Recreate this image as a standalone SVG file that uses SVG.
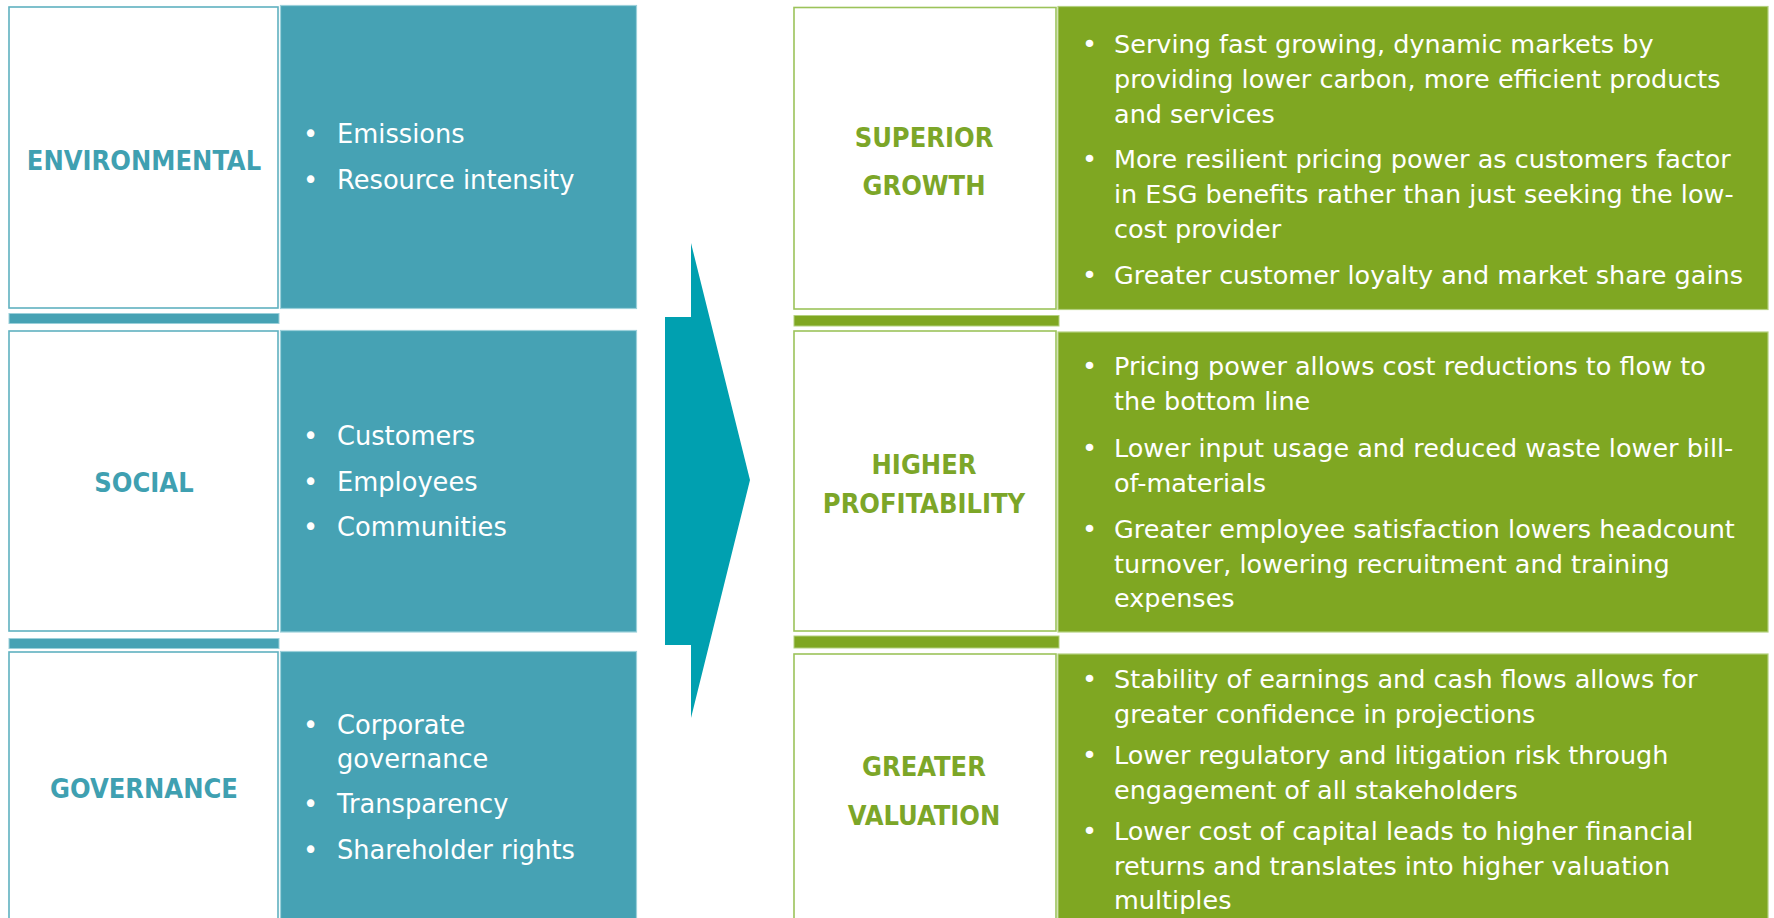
<svg xmlns="http://www.w3.org/2000/svg" width="1774" height="918" viewBox="0 0 1774 918">
  <style>
    .lbl-box { fill: #ffffff; stroke: #5FB1C0; stroke-width: 1.6; }
    .teal-box { fill: #46A2B4; stroke: #9BD0DA; stroke-width: 1.2; }
    .teal-bar { fill: #46A2B4; stroke: #9BD0DA; stroke-width: 1; }
    .g-lbl-box { fill: #ffffff; stroke: #9CC35A; stroke-width: 1.6; }
    .green-box { fill: #7FA722; stroke: #B3D07E; stroke-width: 1.2; }
    .green-bar { fill: #7FA722; stroke: #B3D07E; stroke-width: 1; }
    .t-title, .g-title { font-family: "DejaVu Sans Condensed", "DejaVu Sans", sans-serif; font-stretch: condensed; font-size: 27px; font-weight: bold; text-anchor: middle; }
    .t-title { fill: #3FA0B1; }
    .g-title { fill: #7CA628; }
    .item, .gitem { font-family: "DejaVu Sans", "Liberation Sans", sans-serif; fill: #ffffff; }
    .item { font-size: 25.7px; }
    .gitem { font-size: 25.5px; }
    .arrow { fill: #00A0B0; }
  </style>

  <!-- Left column: ESG pillars -->
  <g id="environmental">
    <rect class="lbl-box" x="9" y="7" width="269" height="301"/>
    <rect class="teal-box" x="280.5" y="5.5" width="356" height="303"/>
    <text class="t-title" x="144" y="170">ENVIRONMENTAL</text>
    <text class="item" x="303" y="143">•</text>
    <text class="item" x="337" y="143">Emissions</text>
    <text class="item" x="303" y="189">•</text>
    <text class="item" x="337" y="189">Resource intensity</text>
  </g>
  <rect class="teal-bar" x="9" y="313.5" width="270" height="10"/>

  <g id="social">
    <rect class="lbl-box" x="9" y="331" width="269" height="300"/>
    <rect class="teal-box" x="280.5" y="330.5" width="356" height="301.5"/>
    <text class="t-title" x="144" y="492">SOCIAL</text>
    <text class="item" x="303" y="445">•</text>
    <text class="item" x="337" y="445">Customers</text>
    <text class="item" x="303" y="491">•</text>
    <text class="item" x="337" y="491">Employees</text>
    <text class="item" x="303" y="536">•</text>
    <text class="item" x="337" y="536">Communities</text>
  </g>
  <rect class="teal-bar" x="9" y="638.5" width="270" height="10"/>

  <g id="governance">
    <rect class="lbl-box" x="9" y="652" width="269" height="280"/>
    <rect class="teal-box" x="280.5" y="651.5" width="356" height="280"/>
    <text class="t-title" x="144" y="798">GOVERNANCE</text>
    <text class="item" x="303" y="734">•</text>
    <text class="item" x="337" y="734">Corporate</text>
    <text class="item" x="337" y="768">governance</text>
    <text class="item" x="303" y="813">•</text>
    <text class="item" x="337" y="813">Transparency</text>
    <text class="item" x="303" y="859">•</text>
    <text class="item" x="337" y="859">Shareholder rights</text>
  </g>

  <!-- Chevron arrow linking pillars to outcomes -->
  <g id="connectors">
    <polygon class="arrow" points="665,317 691,317 691,243 750,480 691,718 691,645 665,645"/>
  </g>

  <!-- Right column: financial outcomes -->
  <g id="superior-growth">
    <rect class="g-lbl-box" x="794" y="7.5" width="262" height="301.5"/>
    <rect class="green-box" x="1058" y="6.5" width="710" height="303"/>
    <text class="g-title" x="924" y="147">SUPERIOR</text>
    <text class="g-title" x="924" y="195">GROWTH</text>
    <text class="gitem" x="1082" y="53">•</text>
    <text class="gitem" x="1114" y="53">Serving fast growing, dynamic markets by</text>
    <text class="gitem" x="1114" y="88">providing lower carbon, more efficient products</text>
    <text class="gitem" x="1114" y="123">and services</text>
    <text class="gitem" x="1082" y="168">•</text>
    <text class="gitem" x="1114" y="168">More resilient pricing power as customers factor</text>
    <text class="gitem" x="1114" y="203">in ESG benefits rather than just seeking the low-</text>
    <text class="gitem" x="1114" y="238">cost provider</text>
    <text class="gitem" x="1082" y="284">•</text>
    <text class="gitem" x="1114" y="284">Greater customer loyalty and market share gains</text>
  </g>
  <rect class="green-bar" x="794" y="315.5" width="265" height="10.5"/>

  <g id="higher-profitability">
    <rect class="g-lbl-box" x="794" y="331" width="262" height="300"/>
    <rect class="green-box" x="1058" y="332" width="710" height="300"/>
    <text class="g-title" x="924" y="474">HIGHER</text>
    <text class="g-title" x="924" y="513">PROFITABILITY</text>
    <text class="gitem" x="1082" y="375">•</text>
    <text class="gitem" x="1114" y="375">Pricing power allows cost reductions to flow to</text>
    <text class="gitem" x="1114" y="410">the bottom line</text>
    <text class="gitem" x="1082" y="457">•</text>
    <text class="gitem" x="1114" y="457">Lower input usage and reduced waste lower bill-</text>
    <text class="gitem" x="1114" y="492">of-materials</text>
    <text class="gitem" x="1082" y="538">•</text>
    <text class="gitem" x="1114" y="538">Greater employee satisfaction lowers headcount</text>
    <text class="gitem" x="1114" y="573">turnover, lowering recruitment and training</text>
    <text class="gitem" x="1114" y="607">expenses</text>
  </g>
  <rect class="green-bar" x="794" y="636" width="265" height="12"/>

  <g id="greater-valuation">
    <rect class="g-lbl-box" x="794" y="654" width="262" height="280"/>
    <rect class="green-box" x="1058" y="654" width="710" height="280"/>
    <text class="g-title" x="924" y="776">GREATER</text>
    <text class="g-title" x="924" y="825">VALUATION</text>
    <text class="gitem" x="1082" y="688">•</text>
    <text class="gitem" x="1114" y="688">Stability of earnings and cash flows allows for</text>
    <text class="gitem" x="1114" y="723">greater confidence in projections</text>
    <text class="gitem" x="1082" y="764">•</text>
    <text class="gitem" x="1114" y="764">Lower regulatory and litigation risk through</text>
    <text class="gitem" x="1114" y="799">engagement of all stakeholders</text>
    <text class="gitem" x="1082" y="840">•</text>
    <text class="gitem" x="1114" y="840">Lower cost of capital leads to higher financial</text>
    <text class="gitem" x="1114" y="875">returns and translates into higher valuation</text>
    <text class="gitem" x="1114" y="909">multiples</text>
  </g>
</svg>
